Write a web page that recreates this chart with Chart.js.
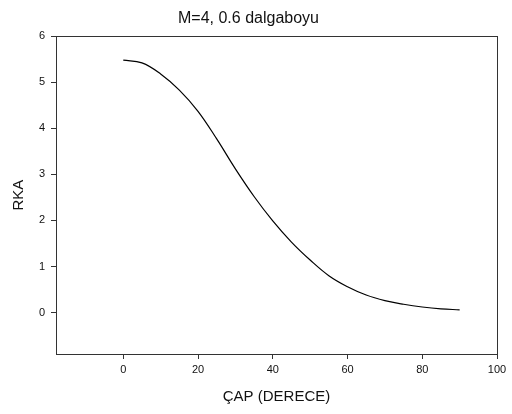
<!DOCTYPE html>
<html>
<head>
<meta charset="utf-8">
<script src="https://cdn.jsdelivr.net/npm/chart.js@4/dist/chart.umd.min.js"></script>
<style>
  html, body { margin: 0; padding: 0; background: #fff; }
  #wrap { width: 512px; height: 414px; }
</style>
</head>
<body>
<div id="wrap"><canvas id="c" width="512" height="414"></canvas></div>
<script>
// RKA against dip angle (degrees)
const angles = [0, 5, 10, 15, 20, 25, 30, 35, 40, 45, 50, 55, 60, 65, 70, 75, 80, 85, 90];
const rka    = [5.48, 5.42, 5.18, 4.83, 4.37, 3.77, 3.12, 2.52, 1.99, 1.53, 1.14, 0.80, 0.56, 0.38, 0.26, 0.18, 0.12, 0.08, 0.06];

const xTicks = [0, 20, 40, 60, 80, 100];
const yTicks = [0, 1, 2, 3, 4, 5, 6];

const titleText = 'M=4, 0.6 dalgaboyu';
const xTitle = 'ÇAP (DERECE)';
const yTitle = 'RKA';

const FONT = "'Liberation Sans', Arial, sans-serif";
const INK = '#111';
const FRAME = '#333';

// box around the whole plotting area
const frame = {
  id: 'frame',
  afterDraw(chart) {
    const { ctx, chartArea: a } = chart;
    ctx.save();
    ctx.strokeStyle = FRAME;
    ctx.lineWidth = 1;
    ctx.strokeRect(Math.round(a.left) + 0.5, Math.round(a.top) + 0.5,
                   Math.round(a.right - a.left), Math.round(a.bottom - a.top));
    ctx.restore();
  }
};

new Chart(document.getElementById('c'), {
  type: 'line',
  data: {
    datasets: [{
      data: angles.map((x, i) => ({ x, y: rka[i] })),
      borderColor: '#000',
      borderWidth: 1.2,
      pointRadius: 0,
      fill: false,
      tension: 0.4
    }]
  },
  options: {
    responsive: false,
    animation: false,
    devicePixelRatio: 1,
    layout: { padding: { left: 0, right: 15, top: 0, bottom: 0 } },
    plugins: {
      legend: { display: false },
      tooltip: { enabled: false },
      title: {
        display: true,
        text: titleText,
        color: INK,
        font: { family: FONT, size: 16, weight: 'normal' },
        padding: { top: 9, bottom: 8 }
      }
    },
    scales: {
      x: {
        type: 'linear',
        min: -18,
        max: 100,
        afterBuildTicks(scale) { scale.ticks = xTicks.map(v => ({ value: v })); },
        afterFit(scale) { scale.height = 60; },
        grid: { display: true, drawOnChartArea: false, drawTicks: true, tickLength: 5, color: FRAME },
        border: { display: true, color: FRAME, width: 1 },
        ticks: { color: INK, font: { family: FONT, size: 11 }, padding: 4, maxRotation: 0 },
        title: {
          display: true, text: xTitle, color: INK,
          font: { family: FONT, size: 15 }, padding: { top: 0, bottom: 8 }
        }
      },
      y: {
        type: 'linear',
        min: -0.9,
        max: 6,
        afterBuildTicks(scale) { scale.ticks = yTicks.map(v => ({ value: v })); },
        afterFit(scale) { scale.width = 56; },
        grid: { display: true, drawOnChartArea: false, drawTicks: true, tickLength: 5, color: FRAME },
        border: { display: true, color: FRAME, width: 1 },
        ticks: { color: INK, font: { family: FONT, size: 11 }, padding: 6 },
        title: {
          display: true, text: yTitle, color: INK,
          font: { family: FONT, size: 15 }, padding: { top: 10, bottom: 0 }
        }
      }
    }
  },
  plugins: [frame]
});
</script>
</body>
</html>
